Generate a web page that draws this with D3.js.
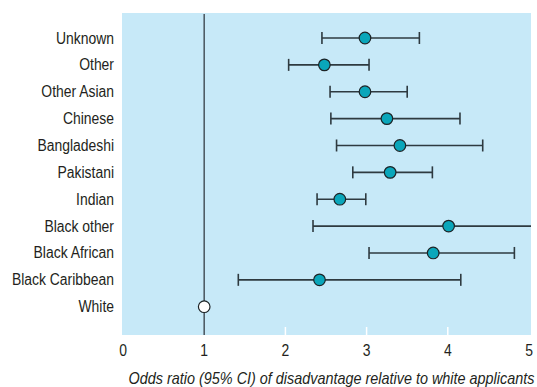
<!DOCTYPE html>
<html>
<head>
<meta charset="utf-8">
<script src="https://cdn.jsdelivr.net/npm/d3@7"></script>
<style>
  html, body { margin: 0; padding: 0; background: #fff; }
  svg text { font-family: "Liberation Sans", Arial, Helvetica, sans-serif; fill: #231f20; }
</style>
</head>
<body>
<svg id="chart" width="537" height="387"></svg>
<script>
// Groups, top to bottom
const groups = ["Unknown", "Other", "Other Asian", "Chinese", "Bangladeshi", "Pakistani",
                "Indian", "Black other", "Black African", "Black Caribbean", "White"];
// Odds ratios and 95% confidence limits (White is the reference group)
const oddsRatio = [2.98, 2.48, 2.98, 3.25, 3.41, 3.29, 2.67, 4.01, 3.82, 2.42, 1];
const lowerCI   = [2.45, 2.04, 2.55, 2.56, 2.63, 2.83, 2.39, 2.34, 3.03, 1.42, null];
const upperCI   = [3.65, 3.03, 3.50, 4.15, 4.43, 3.81, 2.99, 5.40, 4.82, 4.16, null];
const xTicks = [0, 1, 2, 3, 4, 5];
const xTitle = "Odds ratio (95% CI) of disadvantage relative to white applicants";

const svg = d3.select("#chart");
const plot = { left: 122, right: 531, top: 13, bottom: 335 };
const narrow = 0.87; // horizontal squeeze for a condensed type look

const x = d3.scaleLinear().domain([0, 5]).range([123, 529]);
const y = d3.scalePoint().domain(groups).range([38, 306.7]);

// Panel background
svg.append("rect")
  .attr("x", plot.left).attr("y", plot.top)
  .attr("width", plot.right - plot.left).attr("height", plot.bottom - plot.top)
  .attr("fill", "#c7e9f8");

svg.append("clipPath").attr("id", "panel")
  .append("rect")
  .attr("x", plot.left).attr("y", plot.top)
  .attr("width", plot.right - plot.left).attr("height", plot.bottom - plot.top);

// White tick marks inside the panel bottom
svg.append("g").selectAll("line")
  .data(xTicks.filter(t => t > 1 && t < 5))
  .join("line")
  .attr("x1", d => x(d)).attr("x2", d => x(d))
  .attr("y1", plot.bottom - 8).attr("y2", plot.bottom)
  .attr("stroke", "#fff").attr("stroke-width", 1.5);

// Line of no effect (odds ratio = 1)
svg.append("line")
  .attr("x1", x(1)).attr("x2", x(1))
  .attr("y1", plot.top + 1).attr("y2", plot.bottom)
  .attr("stroke", "#4f5d66").attr("stroke-width", 1.6);

// Tick labels along the x axis
svg.append("g").selectAll("text").data(xTicks).join("text")
  .attr("transform", d => `translate(${x(d)},356) scale(${narrow},1)`)
  .attr("text-anchor", "middle")
  .attr("font-size", 16)
  .text(d3.format("d"));

// Group labels
svg.append("g").selectAll("text").data(groups).join("text")
  .attr("transform", d => `translate(114,${y(d) + 5.5}) scale(${narrow},1)`)
  .attr("text-anchor", "end")
  .attr("font-size", 16)
  .text(d => d);

// Confidence intervals
const rows = groups.map((g, i) => ({ g, or: oddsRatio[i], lo: lowerCI[i], hi: upperCI[i] }));
const ci = svg.append("g").attr("clip-path", "url(#panel)")
  .selectAll("g").data(rows.filter(d => d.lo !== null)).join("g");
ci.append("line")
  .attr("x1", d => x(d.lo)).attr("x2", d => x(d.hi))
  .attr("y1", d => y(d.g)).attr("y2", d => y(d.g))
  .attr("stroke", "#2e3a40").attr("stroke-width", 1.6);
ci.selectAll("line.cap")
  .data(d => [d.lo, d.hi].map(v => ({ v, g: d.g })))
  .join("line").attr("class", "cap")
  .attr("x1", d => x(d.v)).attr("x2", d => x(d.v))
  .attr("y1", d => y(d.g) - 6).attr("y2", d => y(d.g) + 6)
  .attr("stroke", "#2e3a40").attr("stroke-width", 1.6);

// Point estimates
svg.append("g").selectAll("circle").data(rows).join("circle")
  .attr("cx", d => x(d.or)).attr("cy", d => y(d.g)).attr("r", 5.8)
  .attr("fill", d => d.lo === null ? "#ffffff" : "#0aa6ba")
  .attr("stroke", "#1c2326").attr("stroke-width", 1.2);

// Axis title, squeezed to fit the space from the panel's left edge to the page edge
const title = svg.append("text")
  .attr("text-anchor", "middle")
  .attr("font-size", 16).attr("font-style", "italic")
  .text(xTitle);
const fullWidth = title.node().getComputedTextLength();
const sx = Math.min(1, 406 / fullWidth);
title.attr("transform", `translate(${(128 + 535) / 2},384) scale(${sx},1)`);
</script>
</body>
</html>
